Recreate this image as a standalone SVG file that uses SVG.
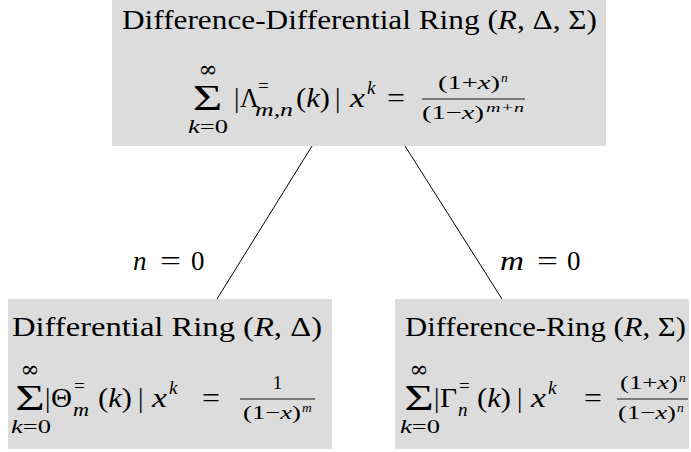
<svg xmlns="http://www.w3.org/2000/svg" width="691" height="452" viewBox="0 0 691 452">
<style>
text{font-family:"Liberation Serif","DejaVu Serif",serif;fill:#000}
.box{fill:#dcdcdc;stroke:none}
.t{font-size:27.5px}
.m{font-size:27px}
.s{font-size:19px}
.ss{font-size:13.5px}
.i{font-style:italic}
.big{font-size:35px}
.inf{font-size:23px;font-family:"DejaVu Serif",serif}
.edge{stroke:#000;stroke-width:1;fill:none}
.bar{stroke:#000;stroke-width:0.9}
</style>
<g id="connectors">
<line class="edge" x1="312" y1="146" x2="217" y2="299"/>
<line class="edge" x1="405" y1="146" x2="502" y2="299"/>
<g id="label-n">
<text class="m i" x="133" y="270">n</text>
<text class="m" x="160" y="270" textLength="21" lengthAdjust="spacingAndGlyphs">=</text>
<text class="m" x="191" y="270">0</text>
</g>
<g id="label-m">
<text class="m i" x="500" y="270" textLength="24" lengthAdjust="spacingAndGlyphs">m</text>
<text class="m" x="537" y="270" textLength="21" lengthAdjust="spacingAndGlyphs">=</text>
<text class="m" x="567" y="270">0</text>
</g>
</g>
<g id="node-top">
<rect class="box" x="112" y="-4" width="494" height="150"/>
<text class="t" x="122" y="29" textLength="475" lengthAdjust="spacingAndGlyphs">Difference-Differential Ring (<tspan class="i">R</tspan>, Δ, Σ)</text>
<text class="inf" x="208" y="77" text-anchor="middle">∞</text>
<text class="big" transform="translate(207.5,110) scale(1.45,1)" text-anchor="middle">Σ</text>
<text class="s" x="188" y="133" textLength="40" lengthAdjust="spacingAndGlyphs"><tspan class="i">k</tspan>=0</text>
<text class="m" x="234" y="107">|</text>
<text class="m" x="240" y="107" textLength="19" lengthAdjust="spacingAndGlyphs">Λ</text>
<text class="s" x="258" y="92">=</text>
<text class="s i" x="255" y="116" textLength="38" lengthAdjust="spacingAndGlyphs">m,n</text>
<text class="m" x="296" y="107" textLength="34" lengthAdjust="spacingAndGlyphs">(<tspan class="i">k</tspan>)</text>
<text class="m" x="335" y="107">|</text>
<text class="m i" x="350" y="107" textLength="15" lengthAdjust="spacingAndGlyphs">x</text>
<text class="s i" x="367" y="94">k</text>
<text class="m" x="387" y="107" textLength="18" lengthAdjust="spacingAndGlyphs">=</text>
<text class="s" x="438" y="89" textLength="62" lengthAdjust="spacingAndGlyphs">(1+<tspan class="i">x</tspan>)</text>
<text class="ss i" x="501" y="82">n</text>
<line class="bar" x1="422" y1="99" x2="525" y2="99"/>
<text class="s" x="422" y="119" textLength="62" lengthAdjust="spacingAndGlyphs">(1−<tspan class="i">x</tspan>)</text>
<text class="ss i" x="486" y="112" textLength="38" lengthAdjust="spacingAndGlyphs">m+n</text>
</g>
<g id="node-left">
<rect class="box" x="8" y="299" width="324" height="150"/>
<text class="t" x="12" y="336" textLength="310" lengthAdjust="spacingAndGlyphs">Differential Ring (<tspan class="i">R</tspan>, Δ)</text>
<text class="inf" x="30" y="377" text-anchor="middle">∞</text>
<text class="big" transform="translate(30,410) scale(1.45,1)" text-anchor="middle">Σ</text>
<text class="s" x="11" y="433" textLength="40" lengthAdjust="spacingAndGlyphs"><tspan class="i">k</tspan>=0</text>
<text class="m" x="45" y="407">|</text>
<text class="m" x="51" y="407" textLength="21" lengthAdjust="spacingAndGlyphs">Θ</text>
<text class="s" x="74" y="392">=</text>
<text class="s i" x="73" y="416" textLength="16" lengthAdjust="spacingAndGlyphs">m</text>
<text class="m" x="98" y="407" textLength="34" lengthAdjust="spacingAndGlyphs">(<tspan class="i">k</tspan>)</text>
<text class="m" x="138" y="407">|</text>
<text class="m i" x="152" y="407" textLength="15" lengthAdjust="spacingAndGlyphs">x</text>
<text class="s i" x="169" y="394">k</text>
<text class="m" x="202" y="407" textLength="18" lengthAdjust="spacingAndGlyphs">=</text>
<text class="s" x="277.5" y="389" text-anchor="middle">1</text>
<line class="bar" x1="240" y1="399" x2="315" y2="399"/>
<text class="s" x="243" y="419" textLength="58" lengthAdjust="spacingAndGlyphs">(1−<tspan class="i">x</tspan>)</text>
<text class="ss i" x="302" y="412">m</text>
</g>
<g id="node-right">
<rect class="box" x="395" y="299" width="294" height="150"/>
<text class="t" x="405" y="336" textLength="281" lengthAdjust="spacingAndGlyphs">Difference-Ring (<tspan class="i">R</tspan>, Σ)</text>
<text class="inf" x="419" y="377" text-anchor="middle">∞</text>
<text class="big" transform="translate(419,410) scale(1.45,1)" text-anchor="middle">Σ</text>
<text class="s" x="400" y="433" textLength="40" lengthAdjust="spacingAndGlyphs"><tspan class="i">k</tspan>=0</text>
<text class="m" x="434" y="407">|</text>
<text class="m" x="440" y="407" textLength="17" lengthAdjust="spacingAndGlyphs">Γ</text>
<text class="s" x="459" y="392">=</text>
<text class="s i" x="458" y="416">n</text>
<text class="m" x="477" y="407" textLength="34" lengthAdjust="spacingAndGlyphs">(<tspan class="i">k</tspan>)</text>
<text class="m" x="517" y="407">|</text>
<text class="m i" x="531" y="407" textLength="15" lengthAdjust="spacingAndGlyphs">x</text>
<text class="s i" x="548" y="394">k</text>
<text class="m" x="584" y="407" textLength="18" lengthAdjust="spacingAndGlyphs">=</text>
<text class="s" x="620" y="389" textLength="58" lengthAdjust="spacingAndGlyphs">(1+<tspan class="i">x</tspan>)</text>
<text class="ss i" x="679" y="382">n</text>
<line class="bar" x1="617" y1="399" x2="688" y2="399"/>
<text class="s" x="618" y="419" textLength="58" lengthAdjust="spacingAndGlyphs">(1−<tspan class="i">x</tspan>)</text>
<text class="ss i" x="677" y="412">n</text>
</g>
</svg>
